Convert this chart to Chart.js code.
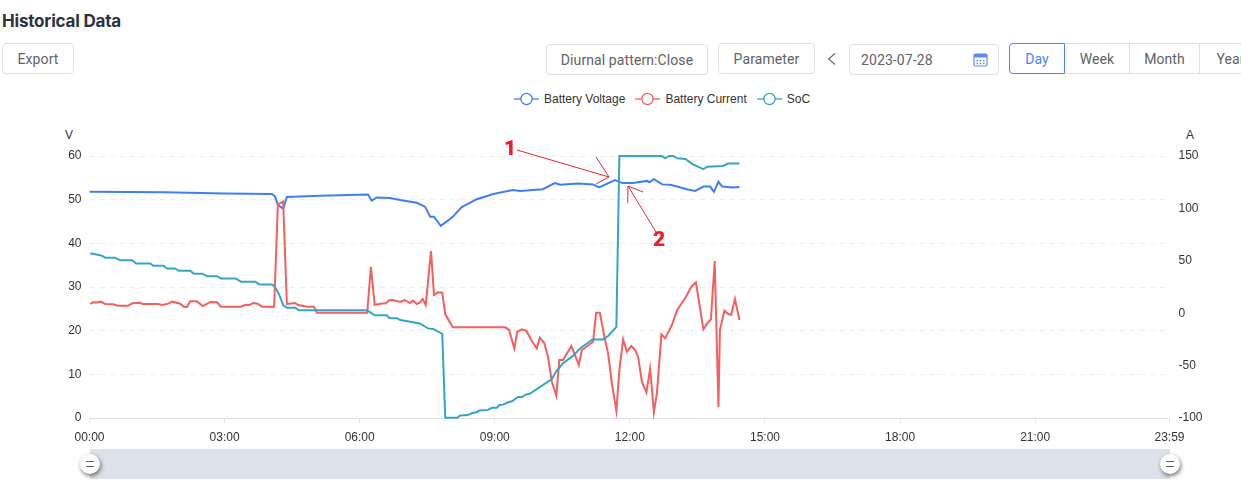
<!DOCTYPE html>
<html>
<head>
<meta charset="utf-8">
<title>Historical Data</title>
<script src="https://cdn.jsdelivr.net/npm/chart.js@4"></script>
<style>
html, body { margin: 0; padding: 0; background: #fff; }
body { position: relative; width: 1241px; height: 504px; overflow: hidden; font-family: Roboto, sans-serif; }
canvas { position: absolute; left: 0; top: 0; }
.title { position: absolute; left: 2px; top: 10px; font: 700 17px/22px Inter, sans-serif; color: #2a3342; letter-spacing: -0.2px; }
.btn { position: absolute; box-sizing: border-box; height: 31px; border: 1px solid #dcdfe6; border-radius: 4px; background: #fff;
  color: #606266; font-size: 14px; line-height: 30px; text-align: center; letter-spacing: 0.1px; }
.seg { border-radius: 0; border-left: none; }
.seg.active { border: 1px solid #4d84f5; border-radius: 4px 0 0 4px; color: #4d84f5; }
.axisname { position: absolute; font: 12px "Liberation Sans", sans-serif; color: #333; }
.legend { position: absolute; left: 514px; top: 90px; height: 18px; display: flex; align-items: center; font: 12px "Liberation Sans", sans-serif; color: #333; white-space: nowrap; }
.legend span { margin: 0 10px 0 5px; }
.band { position: absolute; left: 90px; top: 449px; width: 1080px; height: 30px; background: #dde2ea; }
.handle { position: absolute; top: 454px; width: 20px; height: 20px; border-radius: 50%; background: #fff; box-shadow: 1px 2px 4px rgba(0,0,0,.55); }
.handle:before { content: ""; position: absolute; left: 6px; top: 7px; width: 8px; height: 4px; border-top: 1px solid #666; border-bottom: 1px solid #666; }
svg.notes { position: absolute; left: 0; top: 0; }
</style>
</head>
<body>
<div class="title">Historical Data</div>
<div class="btn" style="left:2px;top:43px;width:72px">Export</div>
<div class="btn" style="left:546px;top:44px;width:162px">Diurnal pattern:Close</div>
<div class="btn" style="left:718px;top:43px;width:97px">Parameter</div>
<svg style="position:absolute;left:826px;top:52px" width="12" height="14" fill="none" stroke="#606266" stroke-width="1.1"><path d="M9 1.5 L2.5 7 L9 12.5"/></svg>
<div class="btn" style="left:849px;top:44px;width:150px;text-align:left;padding-left:11px">2023-07-28</div>
<svg style="position:absolute;left:973px;top:52px" width="15" height="15" viewBox="0 0 15 15">
  <rect x="1" y="2" width="13" height="12" rx="1.5" fill="none" stroke="#5b8def" stroke-width="1.2"/>
  <rect x="1" y="2" width="13" height="3.5" fill="#5b8def"/>
  <g fill="#5b8def"><rect x="3.5" y="8" width="1.6" height="1.4"/><rect x="6.7" y="8" width="1.6" height="1.4"/><rect x="9.9" y="8" width="1.6" height="1.4"/><rect x="3.5" y="10.8" width="1.6" height="1.4"/><rect x="6.7" y="10.8" width="1.6" height="1.4"/><rect x="9.9" y="10.8" width="1.6" height="1.4"/></g>
</svg>
<div class="btn seg active" style="left:1009px;top:43px;width:56px">Day</div>
<div class="btn seg" style="left:1065px;top:43px;width:65px">Week</div>
<div class="btn seg" style="left:1130px;top:43px;width:70px">Month</div>
<div class="btn seg" style="left:1200px;top:43px;width:62px">Year</div>

<div class="legend" id="legend"></div>
<div class="axisname" style="left:65px;top:128px">V</div>
<div class="axisname" style="left:1186px;top:128px">A</div>

<canvas id="chart" width="1241" height="504"></canvas>

<svg class="notes" width="1241" height="504" fill="none" stroke="#e8262f" stroke-width="1">
  <path d="M517 150 L609 177 M596 157 L609 177 M596 184 L609 177"/>
  <path d="M656 232 L628 186 M627.7 203 L628 186 M643 192 L628 186"/>
  <text x="504" y="155" fill="#ee1c25" stroke="none" font-family="Roboto, sans-serif" font-weight="900" font-size="21">1</text>
  <text x="653" y="246" fill="#ee1c25" stroke="none" font-family="Roboto, sans-serif" font-weight="900" font-size="21">2</text>
</svg>

<div class="band"></div>
<div class="handle" style="left:80px"></div>
<div class="handle" style="left:1160px"></div>

<script>
var seriesNames = ['Battery Voltage', 'Battery Current', 'SoC'];
var seriesColors = ['#3f7ff3', '#f45f5f', '#35a4c5'];

// x axis is minutes of the day
var tickMinutes = [0, 180, 360, 540, 720, 900, 1080, 1260, 1439];
var tickLabels = ['00:00', '03:00', '06:00', '09:00', '12:00', '15:00', '18:00', '21:00', '23:59'];

var voltageMinutes = [0, 100, 180, 243, 247, 251, 258, 263, 307, 371, 376, 383, 400, 414, 436, 447, 454, 459, 468, 483, 496, 516, 538, 564, 574, 604, 620, 627, 651, 671, 679, 700, 710, 724, 743, 746, 752, 763, 774, 796, 807, 818, 827, 832, 838, 843, 857, 866];
var voltageValues = [51.8, 51.7, 51.4, 51.3, 50.8, 48.8, 47.9, 50.6, 50.9, 51.2, 49.8, 50.5, 50.4, 49.9, 49.3, 48.4, 46.1, 46.1, 44.0, 45.9, 48.3, 50.1, 51.3, 52.2, 52.0, 52.4, 53.8, 53.4, 53.7, 53.5, 52.8, 54.5, 53.8, 53.8, 54.3, 54.0, 54.7, 53.5, 53.4, 52.4, 52.0, 53.0, 53.0, 51.8, 54.1, 53.0, 52.8, 52.9];

var currentMinutes = [1, 5, 10, 15, 21, 31, 38, 51, 57, 67, 71, 91, 97, 105, 110, 121, 126, 130, 134, 143, 151, 161, 170, 175, 201, 207, 213, 218, 224, 230, 246, 251, 258, 263, 274, 278, 290, 299, 303, 370, 375, 380, 387, 395, 399, 404, 414, 420, 427, 431, 436, 440, 444, 448, 455, 459, 464, 470, 474, 484, 554, 559, 566, 570, 576, 582, 590, 596, 600, 606, 611, 616, 622, 626, 631, 642, 652, 656, 671, 675, 680, 686, 691, 696, 702, 706, 711, 716, 722, 727, 731, 736, 742, 747, 752, 756, 762, 767, 776, 783, 794, 802, 808, 818, 823, 828, 833, 838, 840, 846, 851, 855, 860, 866];
var currentValues = [8.8, 10.4, 10.2, 11.0, 8.8, 8.5, 7.1, 7.1, 9.4, 10.0, 8.8, 8.8, 7.8, 9.1, 11.0, 9.1, 5.9, 5.9, 11.3, 11.3, 6.8, 10.7, 10.4, 6.2, 6.2, 7.8, 7.8, 9.7, 9.0, 6.2, 6.2, 103.9, 106.4, 8.8, 9.7, 7.8, 6.2, 6.2, 0.5, 0.5, 44.3, 7.8, 9.0, 9.4, 12.3, 12.6, 10.7, 12.6, 9.7, 12.0, 8.8, 10.0, 13.5, 7.8, 59.3, 17.3, 19.9, 19.5, -1.1, -13.5, -13.5, -16.0, -33.5, -17.7, -15.4, -16.7, -27.2, -33.5, -23.4, -28.7, -42.1, -65.4, -78.7, -44.7, -44.7, -31.3, -49.4, -35.1, -27.2, 0.5, 0.5, -22.4, -38.3, -66.9, -93.3, -54.2, -24.9, -36.7, -31.3, -35.1, -41.5, -65.4, -75.5, -53.0, -94.6, -76.4, -20.2, -24.0, -11.3, 3.0, 14.8, 25.3, 29.5, -15.4, -9.7, -5.8, 49.8, -89.8, -16.0, 2.4, -0.8, -1.5, 13.5, -6.5];

var socMinutes = [1, 14, 17, 21, 34, 41, 57, 62, 81, 85, 99, 103, 114, 119, 134, 139, 150, 157, 170, 175, 195, 202, 221, 226, 243, 247, 253, 258, 263, 274, 279, 370, 380, 396, 400, 410, 414, 440, 451, 458, 470, 474, 490, 494, 504, 510, 516, 519, 531, 536, 543, 546, 551, 558, 563, 571, 576, 582, 587, 616, 622, 631, 644, 654, 670, 684, 691, 702, 706, 763, 767, 772, 778, 783, 794, 804, 818, 823, 844, 851, 866];
var socValues = [62.9, 62.1, 61.9, 61.2, 61.2, 60.2, 60.2, 59.0, 59.0, 58.1, 58.1, 57.1, 57.1, 56.2, 56.2, 55.1, 55.1, 54.1, 54.1, 53.2, 53.2, 52.0, 52.0, 51.0, 51.0, 50.1, 46.9, 43.1, 42.1, 42.1, 41.1, 41.1, 39.2, 39.2, 38.1, 38.1, 37.4, 36.1, 34.2, 34.0, 32.1, 0.1, 0.1, 1.0, 1.1, 1.9, 2.2, 2.9, 3.1, 3.9, 3.9, 5.0, 5.1, 6.0, 6.4, 8.0, 8.0, 9.0, 9.3, 14.9, 17.9, 20.9, 23.7, 26.6, 30.0, 30.0, 31.3, 34.8, 100, 100, 99.1, 100, 100, 99.1, 98.9, 96.8, 95.0, 95.9, 96.2, 97.1, 97.1];

function toPoints(minutes, values) {
    return minutes.map(function(m, i) { return { x: m, y: values[i] }; });
}

function lineDataset(index, minutes, values, axis) {
    return {
        label: seriesNames[index],
        data: toPoints(minutes, values),
        borderColor: seriesColors[index],
        borderWidth: 2,
        pointRadius: 0,
        tension: 0,
        yAxisID: axis,
        clip: false
    };
}

// legend sits off-centre in the page, so it is plain html
var legendEl = document.getElementById('legend');
seriesNames.forEach(function(name, i) {
    var icon = document.createElementNS('http://www.w3.org/2000/svg', 'svg');
    icon.setAttribute('width', 25);
    icon.setAttribute('height', 14);
    icon.innerHTML = '<line x1="0" y1="7" x2="25" y2="7" stroke="' + seriesColors[i] + '" stroke-width="1.3"/>' +
        '<circle cx="12.5" cy="7" r="5.6" fill="#fff" stroke="' + seriesColors[i] + '" stroke-width="1.3"/>';
    var label = document.createElement('span');
    label.textContent = name;
    legendEl.appendChild(icon);
    legendEl.appendChild(label);
});

var axisFont = { family: '"Liberation Sans", sans-serif', size: 12 };

new Chart(document.getElementById('chart').getContext('2d'), {
    type: 'line',
    data: {
        datasets: [
            lineDataset(2, socMinutes, socValues, 'soc'),
            lineDataset(1, currentMinutes, currentValues, 'current'),
            lineDataset(0, voltageMinutes, voltageValues, 'voltage')
        ]
    },
    options: {
        responsive: false,
        animation: false,
        events: [],
        layout: { padding: { left: 39.5, right: 21.5, top: 156, bottom: 46 } },
        plugins: { legend: { display: false }, tooltip: { enabled: false } },
        scales: {
            x: {
                type: 'linear',
                min: 0,
                max: 1439,
                afterBuildTicks: function(axis) {
                    axis.ticks = tickMinutes.map(function(v) { return { value: v }; });
                },
                afterFit: function(axis) { axis.height = 40; },
                grid: { drawOnChartArea: false, drawTicks: true, tickLength: 5, color: '#e0e3e8' },
                border: { color: '#e0e3e8' },
                ticks: {
                    autoSkip: false,
                    maxRotation: 0,
                    padding: 7,
                    color: '#333',
                    font: axisFont,
                    callback: function(value) { return tickLabels[tickMinutes.indexOf(value)]; }
                }
            },
            voltage: {
                position: 'left',
                min: 0,
                max: 60,
                afterFit: function(axis) { axis.width = 50; },
                border: { display: false, dash: [5, 5] },
                grid: {
                    drawTicks: false,
                    color: function(ctx) { return ctx.tick.value === 0 ? 'rgba(0,0,0,0)' : '#ededed'; },
                    lineWidth: 1
                },
                ticks: { stepSize: 10, padding: 8, color: '#333', font: axisFont }
            },
            current: {
                position: 'right',
                min: -100,
                max: 150,
                afterFit: function(axis) { axis.width = 50; },
                border: { display: false },
                grid: { display: false, drawTicks: false },
                ticks: { stepSize: 50, padding: 9, color: '#333', font: axisFont }
            },
            soc: { display: false, min: 0, max: 100 }
        }
    }
});
</script>
</body>
</html>
